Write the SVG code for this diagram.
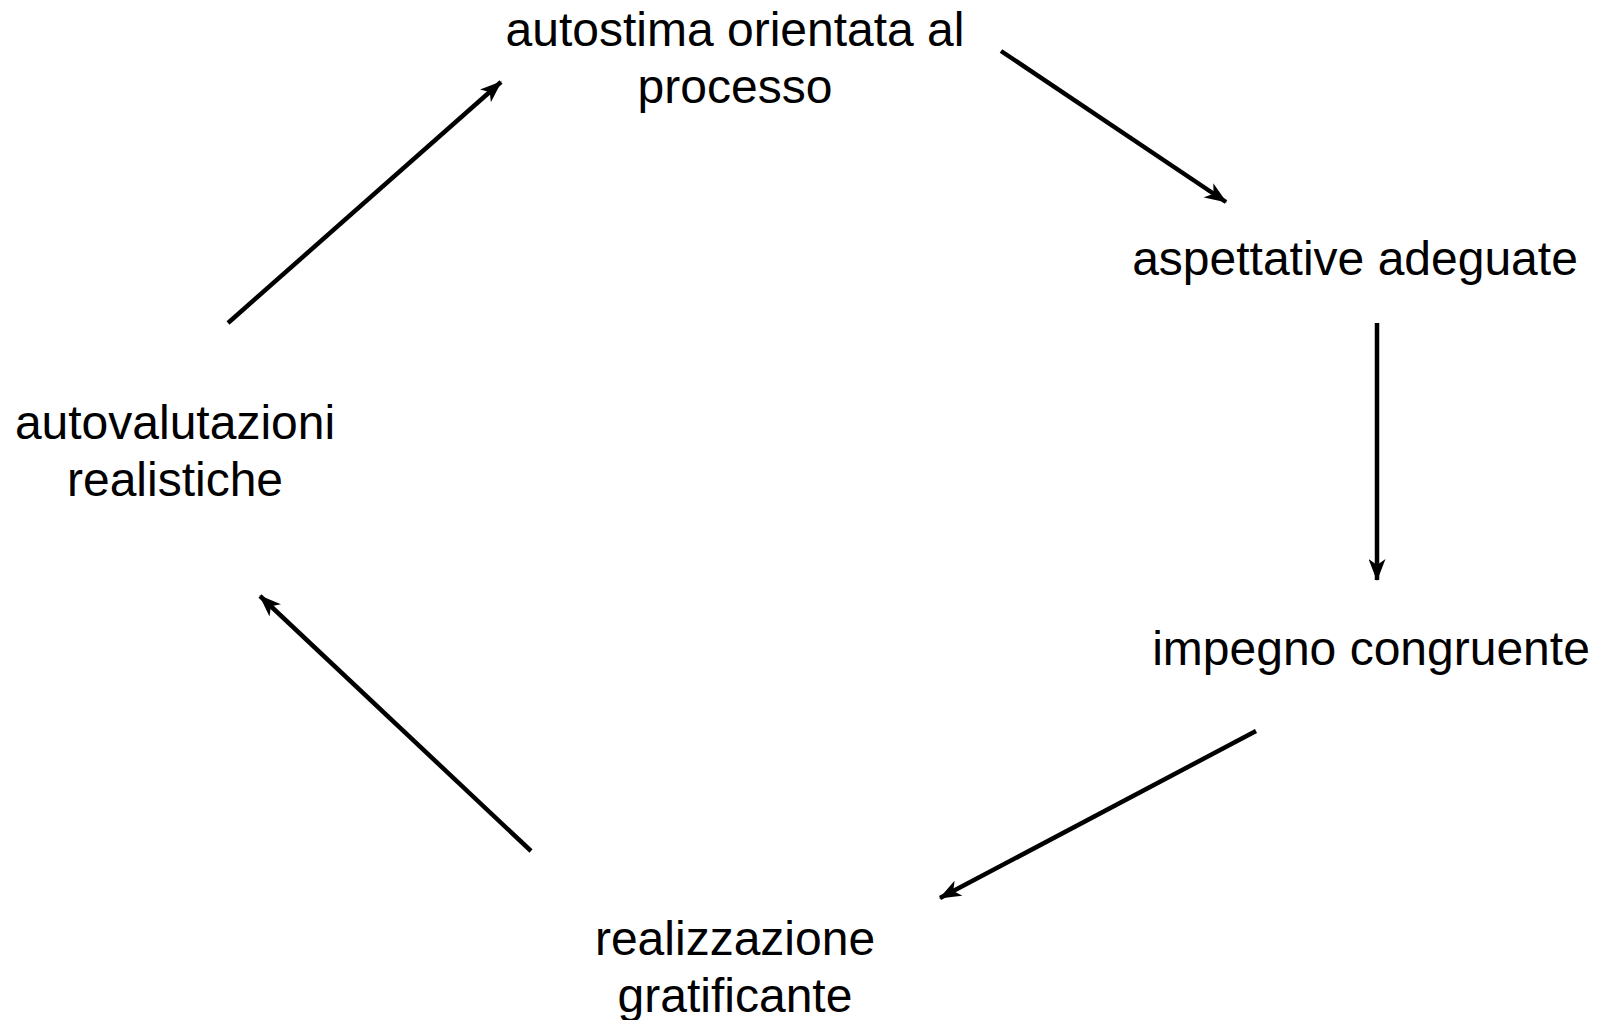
<svg xmlns="http://www.w3.org/2000/svg" width="1610" height="1020" viewBox="0 0 1610 1020">
  <style>
    .lbl { font-family: "Liberation Sans", Arial, sans-serif; font-size: 48px; fill: #000; text-anchor: middle; }
    .edge { stroke: #000; stroke-width: 4.5; fill: none; marker-end: url(#arr); }
  </style>
  <defs>
    <marker id="arr" viewBox="0 0 22 17" refX="21" refY="8.5" markerWidth="22" markerHeight="17" markerUnits="userSpaceOnUse" orient="auto">
      <path d="M0,0 L22,8.5 L0,17 L6,8.5 Z" fill="#000"/>
    </marker>
  </defs>
  <rect width="1610" height="1020" fill="#fff"/>
  <g id="connectors">
    <line class="edge" x1="1001" y1="51" x2="1226" y2="202"/>
    <line class="edge" x1="1377" y1="323" x2="1377" y2="580"/>
    <line class="edge" x1="1256" y1="731" x2="940" y2="898"/>
    <line class="edge" x1="531" y1="851" x2="260" y2="596"/>
    <line class="edge" x1="228" y1="323" x2="501" y2="82"/>
  </g>
  <g id="node-autostima">
    <text class="lbl" x="735" y="46">autostima orientata al</text>
    <text class="lbl" x="735" y="103">processo</text>
  </g>
  <g id="node-aspettative">
    <text class="lbl" x="1355" y="275">aspettative adeguate</text>
  </g>
  <g id="node-impegno">
    <text class="lbl" x="1371" y="665">impegno congruente</text>
  </g>
  <g id="node-realizzazione">
    <text class="lbl" x="735" y="955">realizzazione</text>
    <text class="lbl" x="735" y="1012">gratificante</text>
  </g>
  <g id="node-autovalutazioni">
    <text class="lbl" x="175" y="439">autovalutazioni</text>
    <text class="lbl" x="175" y="496">realistiche</text>
  </g>
</svg>
